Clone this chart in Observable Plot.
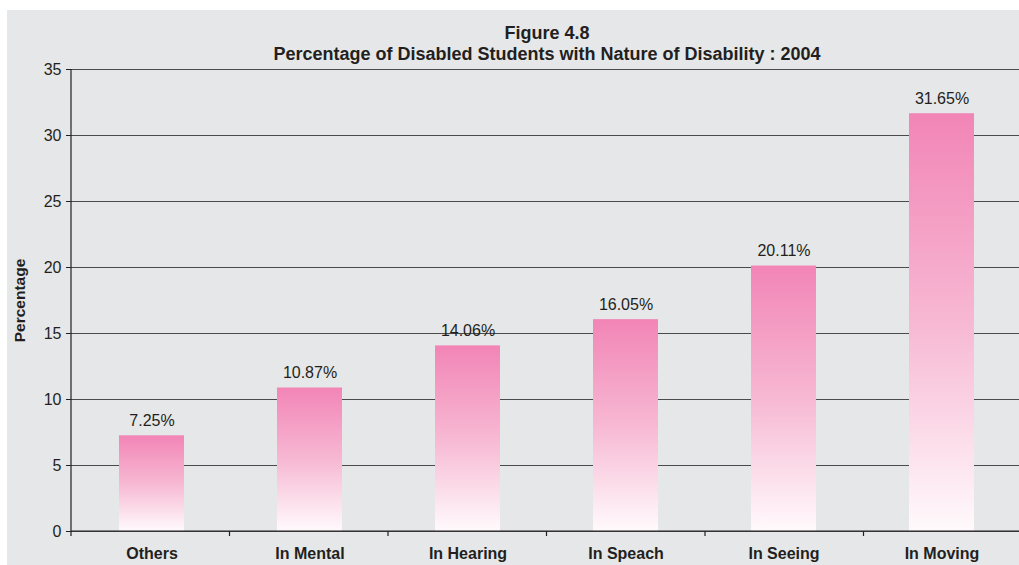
<!DOCTYPE html>
<html>
<head>
<meta charset="utf-8">
<script src="https://cdn.jsdelivr.net/npm/d3@7"></script>
<script src="https://cdn.jsdelivr.net/npm/@observablehq/plot@0.6"></script>
<style>
  html, body { margin: 0; padding: 0; background: #fff; }
  #chart svg { display: block; }
</style>
</head>
<body>
<div id="chart"></div>
<script>
const categories = ["Others", "In Mental", "In Hearing", "In Speach", "In Seeing", "In Moving"];
const values = [7.25, 10.87, 14.06, 16.05, 20.11, 31.65];
const yTicks = [0, 5, 10, 15, 20, 25, 30, 35];
const titleLines = ["Figure 4.8", "Percentage of Disabled Students with Nature of Disability : 2004"];
const yLabel = "Percentage";

const data = categories.map((c, i) => ({category: c, value: values[i]}));

const W = 1019, H = 565;
const font = "'Liberation Sans', Arial, sans-serif";

const defsMark = () => {
  const defs = d3.create("svg:defs");
  const g = defs.append("linearGradient").attr("id", "barGrad")
    .attr("x1", 0).attr("y1", 0).attr("x2", 0).attr("y2", 1);
  g.append("stop").attr("offset", "0%").attr("stop-color", "#f285b6");
  g.append("stop").attr("offset", "50%").attr("stop-color", "#f7b8d3");
  g.append("stop").attr("offset", "100%").attr("stop-color", "#fffafc");
  return defs.node();
};

const axisLines = (index, scales, values, dims) => {
  const {marginLeft, marginRight, marginBottom, width, height, marginTop} = dims;
  const g = d3.create("svg:g").attr("stroke", "#231f20").attr("stroke-width", 1.2);
  const y0 = height - marginBottom;
  g.append("line").attr("x1", marginLeft).attr("x2", marginLeft).attr("y1", marginTop).attr("y2", y0 + 0.5);
  g.append("line").attr("x1", marginLeft).attr("x2", width).attr("y1", y0).attr("y2", y0);
  const step = (width - marginLeft - marginRight) / categories.length;
  for (let i = 0; i <= categories.length; i++) {
    const x = marginLeft + i * step;
    g.append("line").attr("x1", x).attr("x2", x).attr("y1", y0).attr("y2", y0 + 5);
  }
  return g.node();
};

const chart = Plot.plot({
  width: W,
  height: H,
  marginLeft: 71,
  marginRight: -3,
  marginTop: 69,
  marginBottom: 34,
  style: {
    fontFamily: font,
    fontSize: "16px",
    color: "#231f20",
    background: "linear-gradient(#e6e7e8,#e6e7e8) no-repeat 7px 10px / 1012px 555px, #ffffff"
  },
  x: {domain: categories, paddingInner: 0.59, paddingOuter: 0.295, label: null},
  y: {domain: [0, 35], label: null},
  marks: [
    defsMark,
    Plot.ruleY(yTicks, {stroke: "#4a4a4a", strokeWidth: 1.1, strokeOpacity: 1}),
    Plot.barY(data, {x: "category", y: "value", fill: "url(#barGrad)"}),
    Plot.text(data, {x: "category", y: "value", text: d => d.value.toFixed(2) + "%", dy: -15, fontSize: 16, fill: "#231f20"}),
    axisLines,
    Plot.axisY(yTicks, {tickSize: 5, tickPadding: 5, fontSize: 16, stroke: "#231f20", fill: "#231f20", label: null}),
    Plot.axisX({tickSize: 0, tickPadding: 16, fontSize: 16, fontWeight: "bold", fill: "#231f20", label: null}),
    Plot.text([yLabel], {frameAnchor: "left", textAnchor: "middle", lineAnchor: "middle", dx: -51, rotate: -90, fontWeight: "bold", fontSize: 15.5, fill: "#231f20"}),
    Plot.text([titleLines[0]], {frameAnchor: "top", lineAnchor: "middle", dy: -36, fontWeight: "bold", fontSize: 18, fill: "#231f20"}),
    Plot.text([titleLines[1]], {frameAnchor: "top", lineAnchor: "middle", dy: -15, fontWeight: "bold", fontSize: 18, fill: "#231f20"})
  ]
});

document.getElementById("chart").appendChild(chart);
</script>
</body>
</html>
